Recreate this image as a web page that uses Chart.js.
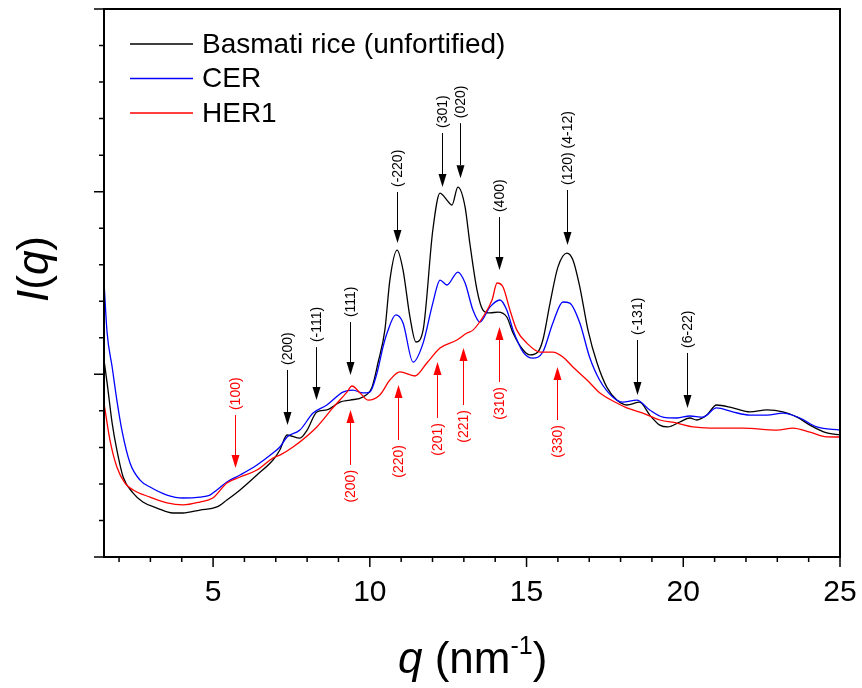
<!DOCTYPE html>
<html>
<head>
<meta charset="utf-8">
<script src="https://cdn.jsdelivr.net/npm/chart.js@4.4.1/dist/chart.umd.min.js"></script>
<style>
  html, body { margin: 0; padding: 0; background: #fff; }
  #wrap { width: 862px; height: 688px; position: relative; }
</style>
</head>
<body>
<div id="wrap"><canvas id="chart"></canvas></div>
<script>
// Curves, q in nm^-1, I(q) in arbitrary units
const basmatiQ = [1.52, 1.62, 1.78, 1.93, 2.13, 2.45, 2.76, 3.21, 3.72, 4.04, 4.58, 5.12, 5.44, 5.86, 6.40, 6.91, 7.13, 7.36, 7.77, 8.00,
  8.31, 8.63, 9.05, 9.37, 9.78, 10.07, 10.26, 10.48, 10.64, 10.87, 11.06, 11.28, 11.47, 11.70, 12.01, 12.24, 12.33, 12.46, 12.62, 12.81,
  13.04, 13.19, 13.42, 13.61, 13.83, 14.09, 14.37, 14.57, 14.89, 15.11, 15.36, 15.52, 15.75, 16.00, 16.29, 16.48, 16.70, 16.96, 17.25, 17.56,
  17.88, 18.20, 18.61, 18.93, 19.25, 19.51, 19.89, 20.21, 20.43, 20.75, 21.06, 21.58, 22.13, 22.67, 23.18, 23.63, 24.04, 24.58, 25.00];
const basmatiI = [10.78, 9.52, 7.33, 5.86, 4.38, 3.50, 3.01, 2.68, 2.41, 2.41, 2.57, 2.74, 3.12, 3.67, 4.49, 5.31, 5.86, 6.68, 6.51, 6.95,
  7.94, 8.05, 8.48, 8.59, 8.76, 9.30, 10.62, 12.42, 15.16, 16.80, 15.71, 13.14, 11.77, 12.42, 17.90, 19.92, 19.81, 19.54, 19.27, 20.25,
  19.16, 17.19, 14.61, 13.52, 13.36, 13.41, 13.14, 12.26, 11.33, 11.06, 11.22, 11.88, 13.90, 15.87, 16.64, 16.26, 14.78, 12.42, 10.62, 9.30,
  8.59, 8.32, 8.48, 7.77, 7.22, 7.12, 7.39, 7.61, 7.50, 7.77, 8.32, 8.16, 7.94, 8.05, 7.94, 7.66, 7.22, 6.79, 6.68];

const cerQ = [1.52, 1.62, 1.78, 1.93, 2.09, 2.35, 2.67, 2.99, 3.53, 4.04, 4.58, 4.90, 5.12, 5.44, 5.86, 6.40, 6.91, 7.13, 7.36, 7.77,
  8.19, 8.63, 9.14, 9.46, 9.78, 10.00, 10.23, 10.42, 10.55, 10.83, 11.06, 11.38, 11.70, 12.01, 12.24, 12.46, 12.81, 13.04, 13.29, 13.51,
  13.83, 14.15, 14.37, 14.57, 14.89, 15.20, 15.52, 15.84, 16.16, 16.38, 16.70, 17.01, 17.33, 17.75, 18.07, 18.52, 18.93, 19.35, 19.80, 20.21,
  20.63, 21.06, 21.58, 22.13, 22.67, 23.18, 23.72, 24.26, 25.00];
const cerI = [15.05, 12.26, 10.40, 8.59, 6.95, 5.15, 4.21, 3.83, 3.39, 3.23, 3.28, 3.39, 3.67, 4.11, 4.49, 5.04, 5.69, 6.02, 6.57, 6.95,
  7.88, 8.32, 9.03, 9.14, 8.98, 9.03, 10.07, 11.49, 12.26, 13.25, 12.81, 10.67, 11.71, 13.90, 15.16, 14.89, 15.60, 15.00, 13.52, 12.86,
  13.68, 14.07, 13.52, 12.42, 11.22, 10.89, 11.22, 12.81, 13.96, 13.90, 12.81, 10.95, 9.69, 8.76, 8.48, 8.59, 8.05, 7.66, 7.61, 7.72,
  7.66, 8.16, 7.94, 7.77, 7.77, 7.88, 7.61, 7.12, 6.95];

const her1Q = [1.52, 1.71, 1.93, 2.19, 2.45, 2.99, 3.53, 4.04, 4.58, 4.99, 5.44, 5.86, 6.40, 6.91, 7.13, 7.55, 8.31, 8.82, 9.27, 9.43,
  9.69, 9.94, 10.32, 10.64, 10.96, 11.44, 11.82, 12.24, 12.78, 13.10, 13.29, 13.61, 13.90, 14.06, 14.25, 14.47, 14.69, 15.01, 15.43, 15.84,
  16.16, 16.48, 16.93, 17.34, 17.88, 18.20, 18.71, 19.25, 19.80, 20.31, 20.85, 21.90, 22.99, 23.50, 24.04, 24.58, 25.00];
const her1I = [8.43, 6.40, 4.93, 4.05, 3.67, 3.28, 2.96, 2.85, 3.01, 3.23, 4.05, 4.38, 4.76, 5.42, 5.58, 6.02, 7.12, 8.16, 9.03, 9.36,
  8.98, 8.59, 8.87, 9.69, 10.13, 9.91, 10.62, 11.44, 11.88, 12.26, 12.42, 13.14, 14.07, 15.00, 14.78, 13.52, 12.42, 11.71, 11.22, 11.22,
  10.95, 10.40, 9.69, 8.98, 8.43, 8.16, 7.88, 7.50, 7.33, 7.12, 7.06, 7.06, 6.95, 7.06, 6.84, 6.58, 6.57];

const xTickLabels = [5, 10, 15, 20, 25];

// Reflection labels: q of the arrow, arrow tail and tip in I(q) units
const blackPeakLabels = ['(200)', '(-111)', '(111)', '(-220)', '(301)', '(020)', '(400)', '(120) (4-12)', '(-131)', '(6-22)'];
const blackPeakQ = [7.36, 8.28, 9.37, 10.87, 12.30, 12.88, 14.12, 16.29, 18.52, 20.12];
const blackPeakTail = [10.24, 11.49, 12.86, 19.98, 23.21, 23.75, 18.61, 20.09, 11.88, 11.17];
const blackPeakTip = [7.22, 8.59, 9.96, 17.19, 20.25, 20.74, 15.71, 17.08, 8.87, 8.16];

const redPeakLabels = ['(100)', '(200)', '(220)', '(201)', '(221)', '(310)', '(330)'];
const redPeakQ = [5.70, 9.37, 10.90, 12.14, 12.97, 14.12, 15.97];
const redPeakTail = [7.77, 5.04, 6.40, 7.61, 8.32, 9.58, 7.50];
const redPeakTip = [4.87, 8.05, 9.41, 10.67, 11.44, 12.59, 10.40];

const FONT = '"Liberation Sans", Arial, Helvetica, sans-serif';

const toPoints = (qs, vals) => qs.map((q, i) => ({ x: q, y: vals[i] }));

// box, ticks, axis titles, legend and the arrows
const decorations = {
  id: 'decorations',
  afterDatasetsDraw(chart) {
    const { ctx, chartArea: a, scales: { x, y } } = chart;
    ctx.save();

    // frame
    ctx.strokeStyle = '#000';
    ctx.lineWidth = 2;
    ctx.strokeRect(a.left, a.top, a.right - a.left, a.bottom - a.top);

    // tick marks (outside), major every 5 / 10, minor every 1 / 2
    ctx.lineWidth = 1.5;
    ctx.beginPath();
    for (let q = 2; q <= 25; q++) {
      const px = x.getPixelForValue(q);
      const len = q % 5 === 0 ? 10 : 5;
      ctx.moveTo(px, a.bottom);
      ctx.lineTo(px, a.bottom + len);
    }
    for (let v = 0; v <= 30; v += 2) {
      const py = y.getPixelForValue(v);
      const len = v % 10 === 0 ? 10 : 5;
      ctx.moveTo(a.left, py);
      ctx.lineTo(a.left - len, py);
    }
    ctx.stroke();

    // y title: I(q)
    ctx.fillStyle = '#000';
    ctx.save();
    ctx.translate(48, 302);
    ctx.rotate(-Math.PI / 2);
    ctx.textAlign = 'left';
    ctx.textBaseline = 'alphabetic';
    let cx = 0;
    [['I', true], ['(', false], ['q', true], [')', false]].forEach(([s, it]) => {
      ctx.font = (it ? 'italic ' : '') + '44px ' + FONT;
      ctx.fillText(s, cx, 0);
      cx += ctx.measureText(s).width;
    });
    ctx.restore();

    // x title: q (nm^-1)
    ctx.textAlign = 'left';
    ctx.textBaseline = 'alphabetic';
    let tx = 398;
    const base = 673;
    ctx.font = 'italic 44px ' + FONT;
    ctx.fillText('q', tx, base);
    tx += ctx.measureText('q ').width;
    ctx.font = '44px ' + FONT;
    ctx.fillText('(nm', tx, base);
    tx += ctx.measureText('(nm').width;
    ctx.font = '25px ' + FONT;
    ctx.fillText('-1', tx, base - 19);
    tx += ctx.measureText('-1').width;
    ctx.font = '44px ' + FONT;
    ctx.fillText(')', tx, base);

    // legend
    ctx.font = '28px ' + FONT;
    ctx.textBaseline = 'middle';
    chart.data.datasets.forEach((ds, i) => {
      const ly = 44 + i * 34.5;
      ctx.strokeStyle = ds.borderColor;
      ctx.lineWidth = 1.3;
      ctx.beginPath();
      ctx.moveTo(130, ly);
      ctx.lineTo(193, ly);
      ctx.stroke();
      ctx.fillStyle = '#000';
      ctx.fillText(ds.label, 202, ly + 1);
    });

    // arrows with rotated labels
    const drawArrows = (labels, qs, tails, tips, color) => {
      ctx.strokeStyle = color;
      ctx.fillStyle = color;
      ctx.lineWidth = 1;
      ctx.font = '14px ' + FONT;
      labels.forEach((lab, i) => {
        const px = Math.round(x.getPixelForValue(qs[i])) + 0.5;
        const tailY = y.getPixelForValue(tails[i]);
        const tipY = y.getPixelForValue(tips[i]);
        const dir = tipY > tailY ? 1 : -1;
        const headLen = 13, headW = 4;
        ctx.beginPath();
        ctx.moveTo(px, tailY);
        ctx.lineTo(px, tipY - dir * headLen);
        ctx.stroke();
        ctx.beginPath();
        ctx.moveTo(px, tipY);
        ctx.lineTo(px - headW, tipY - dir * headLen);
        ctx.lineTo(px + headW, tipY - dir * headLen);
        ctx.closePath();
        ctx.fill();
        ctx.save();
        ctx.translate(px + 1, tailY - dir * 5);
        ctx.rotate(-Math.PI / 2);
        ctx.textBaseline = 'middle';
        ctx.textAlign = dir > 0 ? 'left' : 'right';
        ctx.fillText(lab, 0, 0);
        ctx.restore();
      });
    };
    drawArrows(blackPeakLabels, blackPeakQ, blackPeakTail, blackPeakTip, '#000');
    drawArrows(redPeakLabels, redPeakQ, redPeakTail, redPeakTip, '#ff0000');

    ctx.restore();
  }
};

const lineStyle = { showLine: true, pointRadius: 0, borderWidth: 1.3, fill: false, cubicInterpolationMode: 'monotone' };

new Chart(document.getElementById('chart'), {
  type: 'scatter',
  data: {
    datasets: [
      { label: 'Basmati rice (unfortified)', data: toPoints(basmatiQ, basmatiI), borderColor: '#000000', order: 3, ...lineStyle },
      { label: 'CER', data: toPoints(cerQ, cerI), borderColor: '#0000ff', order: 2, ...lineStyle },
      { label: 'HER1', data: toPoints(her1Q, her1I), borderColor: '#ff0000', order: 1, ...lineStyle }
    ]
  },
  options: {
    responsive: true,
    maintainAspectRatio: false,
    animation: false,
    layout: { padding: { top: 9, right: 22, left: 0, bottom: 0 } },
    plugins: {
      legend: { display: false },
      tooltip: { enabled: false }
    },
    scales: {
      x: {
        type: 'linear',
        min: 1.52,
        max: 25,
        grid: { display: false },
        border: { display: false },
        afterBuildTicks: (scale) => { scale.ticks = xTickLabels.map(v => ({ value: v })); },
        afterFit: (scale) => {
          scale.height = 131;
          // labels may overhang the plot box, as in the reference
          scale.paddingLeft = 0;
          scale.paddingRight = 0;
        },
        ticks: {
          color: '#000',
          padding: 10,
          maxRotation: 0,
          font: { family: FONT, size: 30 }
        }
      },
      y: {
        type: 'linear',
        min: 0,
        max: 30,
        grid: { display: false },
        border: { display: false },
        ticks: { display: false },
        afterFit: (scale) => { scale.width = 104; }
      }
    }
  },
  plugins: [decorations]
});
</script>
</body>
</html>
